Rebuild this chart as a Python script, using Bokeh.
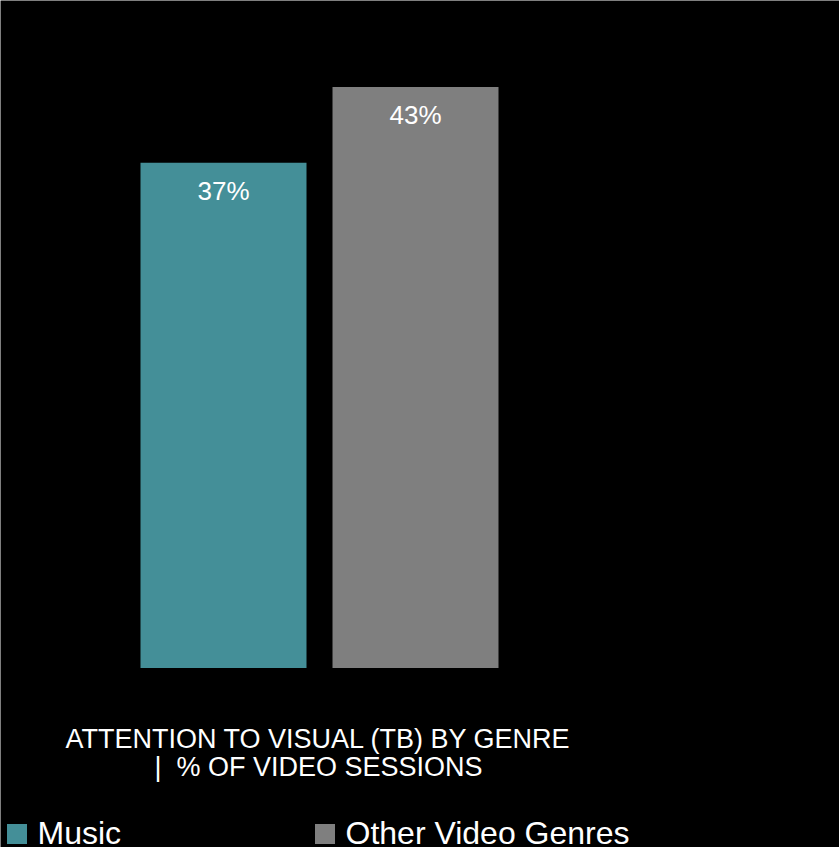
from bokeh.plotting import figure
from bokeh.models import (ColumnDataSource, Range1d, Label, LabelSet, Legend, LegendItem)
from bokeh.core.properties import value
from bokeh.embed import file_html
from bokeh.resources import INLINE

# ---- data ----
categories = ["Music", "Other Video Genres"]
values = [37.4, 43.0]
value_labels = ["37%", "43%"]
colors = ["#448F98", "#7F7F7F"]
title_lines = ["ATTENTION TO VISUAL (TB) BY GENRE", "|\u00a0\u00a0% OF VIDEO SESSIONS"]

W, H = 839, 847
FONT = "Liberation Sans"

src = ColumnDataSource(dict(
    x=list(range(len(categories))),
    top=values,
    cat=categories,
    color=colors,
    lab=value_labels,
))

p = figure(width=W, height=H, output_backend="svg", toolbar_location=None,
           x_range=Range1d(-1.16146, 3.20833), y_range=Range1d(-13.286, 49.408),
           min_border=0, background_fill_color="black", border_fill_color="black",
           outline_line_color=None)
p.xaxis.visible = False
p.yaxis.visible = False
p.grid.visible = False

r = p.vbar(x="x", top="top", bottom=0, width=0.8646, fill_color="color",
           line_color=None, source=src)

labels = LabelSet(x="x", y="top", text="lab", source=src, y_offset=-37,
                  text_align="center", text_baseline="alphabetic",
                  text_color="white", text_font=value(FONT), text_font_size="26px")
p.add_layout(labels)

for t, yy in zip(title_lines, [109, 81]):
    p.add_layout(Label(x=318, y=yy, x_units="screen", y_units="screen", text=t,
                       text_align="center", text_baseline="alphabetic",
                       text_color="white", text_font=FONT, text_font_size="27px"))

items = [LegendItem(label=c, renderers=[r], index=i) for i, c in enumerate(categories)]
legend = Legend(items=items, location=(3.5, -5), orientation="horizontal",
                glyph_width=25, glyph_height=25, label_standoff=9,
                label_width=274, spacing=0, padding=0, margin=0,
                border_line_color=None, background_fill_alpha=0,
                label_text_color="white", label_text_font=FONT,
                label_text_font_size="32px")
p.add_layout(legend, "center")

open("out.html", "w").write(file_html(p, INLINE))
